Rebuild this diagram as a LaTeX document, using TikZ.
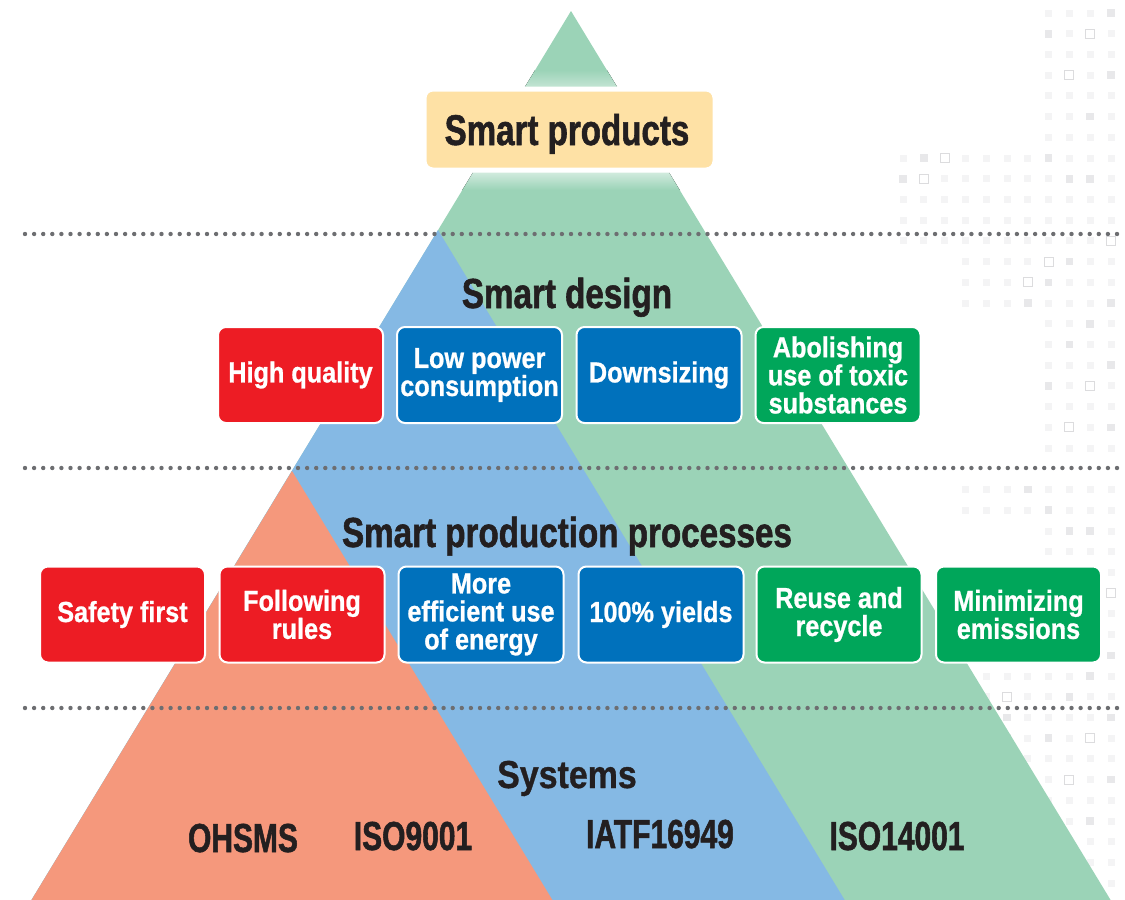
\documentclass[tikz,border=0pt]{standalone}
\usepackage{fontspec}
\setmainfont{Liberation Sans}
\newfontfamily\fprod[FakeStretch=0.77,FakeBold=1.3]{Liberation Sans}
\newfontfamily\fh[FakeStretch=0.79,FakeBold=1.3]{Liberation Sans}
\newfontfamily\fsys[FakeStretch=0.74,FakeBold=1.3]{Liberation Sans}
\newfontfamily\fb[FakeStretch=0.87,FakeBold=0.8]{Liberation Sans}
\definecolor{trigreen}{RGB}{155,211,183}
\definecolor{triblue}{RGB}{133,185,228}
\definecolor{trisalmon}{RGB}{245,152,124}
\definecolor{boxred}{RGB}{237,28,36}
\definecolor{boxblue}{RGB}{0,113,188}
\definecolor{boxgreen}{RGB}{0,166,90}
\definecolor{prodfill}{RGB}{254,225,165}
\definecolor{txtdark}{RGB}{35,31,32}
\definecolor{dotgray}{RGB}{109,110,113}
\definecolor{sqlight}{RGB}{244,244,245}
\definecolor{sqmed}{RGB}{232,232,234}
\definecolor{sqline}{RGB}{220,220,222}
\tikzset{
  itembox/.style={rounded corners=8pt, draw=white, line width=2pt,
    minimum width=165pt, minimum height=96pt, inner sep=0pt, align=center,
    text=white, font=\fb\bfseries\fontsize{29}{28}\selectfont},
  redbox/.style={itembox, fill=boxred},
  bluebox/.style={itembox, fill=boxblue},
  greenbox/.style={itembox, fill=boxgreen},
  prodbox/.style={rounded corners=9pt, draw=white, line width=5pt, fill=prodfill,
    minimum width=291pt, minimum height=81pt, inner sep=0pt},
  heading/.style={anchor=base, text=txtdark, inner sep=0pt,
    font=\fh\bfseries\fontsize{42}{46}\selectfont},
  syslabel/.style={anchor=base, text=txtdark, inner sep=0pt,
    font=\fsys\bfseries\fontsize{40.5}{44}\selectfont},
  dotline/.style={draw=dotgray, line width=4.4pt, line cap=round,
    dash pattern=on 0pt off 9.1pt},
  sqa/.style={fill=sqlight},
  sqb/.style={fill=sqmed},
  sqc/.style={draw=sqline, fill=white, line width=1pt},
}
\begin{document}
\begin{tikzpicture}[x=1pt,y=-1pt]
\useasboundingbox (0,0) rectangle (1125,900);
\fill[white] (0,0) rectangle (1125,900);
% background square pattern
\foreach \ja/\jb/\ka/\kb in {0/6/7/10, 7/11/0/10, 12/14/3/10, 15/21/7/10,
    23/24/3/10, 25/31/7/10, 32/35/4/10, 36/36/6/10, 37/38/7/10, 39/42/8/10}{
  \foreach \j in {\ja,...,\jb}{
    \foreach \k in {\ka,...,\kb}{
      \pgfmathsetmacro\px{903+20.8*\k}
      \pgfmathsetmacro\py{13+20.72*\j}
      \pgfmathtruncatemacro\t{mod(\k*7+\j*13+\k*\j,17)}
      \ifnum\t=0
        \draw[sqc] (\px-4.5,\py-4.5) rectangle (\px+4.5,\py+4.5);
      \else\ifnum\t<4
        \fill[sqb] (\px-3.8,\py-3.8) rectangle (\px+3.8,\py+3.8);
      \else
        \fill[sqa] (\px-3.5,\py-3.5) rectangle (\px+3.5,\py+3.5);
      \fi\fi
    }
  }
}
% triangles
\coordinate (gA) at (571,11);
\coordinate (bA) at (438,230);
\coordinate (sA) at (292,471);
\coordinate (BL) at (31.5,900);
\coordinate (gR) at (1110.6,900);
\coordinate (bR) at (844.7,900);
\coordinate (sR) at (552.4,900);
\fill[trigreen] (gA) -- (gR) -- (BL) -- cycle;
\begin{scope}
  \clip (gA) -- (gR) -- (BL) -- cycle;
  \fill[top color=trigreen!45!white, bottom color=trigreen] (0,172) rectangle (1125,190);
  \fill[top color=trigreen, bottom color=trigreen!60!white] (0,70) rectangle (1125,87);
\end{scope}
\fill[triblue] (bA) -- (bR) -- (BL) -- cycle;
\fill[trisalmon] (sA) -- (sR) -- (BL) -- cycle;
% dotted separators
\coordinate (d1a) at (25,234); \coordinate (d1b) at (1118,234);
\coordinate (d2a) at (25,468); \coordinate (d2b) at (1118,468);
\coordinate (d3a) at (25,708); \coordinate (d3b) at (1118,708);
\draw[dotline] (d1a) -- (d1b);
\draw[dotline] (d2a) -- (d2b);
\draw[dotline] (d3a) -- (d3b);
% smart products
\node[prodbox] (prod) at (569.5,129.5) {};
\node[anchor=base, text=txtdark, inner sep=0pt, font=\fprod\bfseries\fontsize{43}{46}\selectfont]
  (prodt) at (567,145) {Smart products};
% smart design
\node[heading] (design) at (567,308) {Smart design};
\node[redbox]   (hq)  at (300.5,375) {High quality};
\node[bluebox]  (lpc) at (479.5,375) {Low power\\consumption};
\node[bluebox]  (dwn) at (659,375)   {Downsizing};
\node[greenbox] (tox) at (838,375)   {Abolishing\\use of toxic\\substances};
% smart production processes
\node[heading] (proc) at (567,547) {Smart production processes};
\node[redbox]   (saf) at (122.5,614.5) {Safety first};
\node[redbox]   (fol) at (302,614.5)   {Following\\rules};
\node[bluebox]  (eff) at (481,614.5)   {More\\efficient use\\of energy};
\node[bluebox]  (yld) at (661,614.5)   {100\% yields};
\node[greenbox] (rec) at (839,614.5)   {Reuse and\\recycle};
\node[greenbox] (emi) at (1018.5,614.5) {Minimizing\\emissions};
% systems
\node[anchor=base, text=txtdark, inner sep=0pt, font=\fb\bfseries\fontsize{39}{42}\selectfont]
  (sys) at (567,788) {Systems};
\node[syslabel] (ohs)  at (243,852) {OHSMS};
\node[syslabel] (iso9) at (413,850) {ISO9001};
\node[syslabel] (iatf) at (660,848) {IATF16949};
\node[syslabel] (iso14) at (897,850) {ISO14001};
\end{tikzpicture}
\end{document}
